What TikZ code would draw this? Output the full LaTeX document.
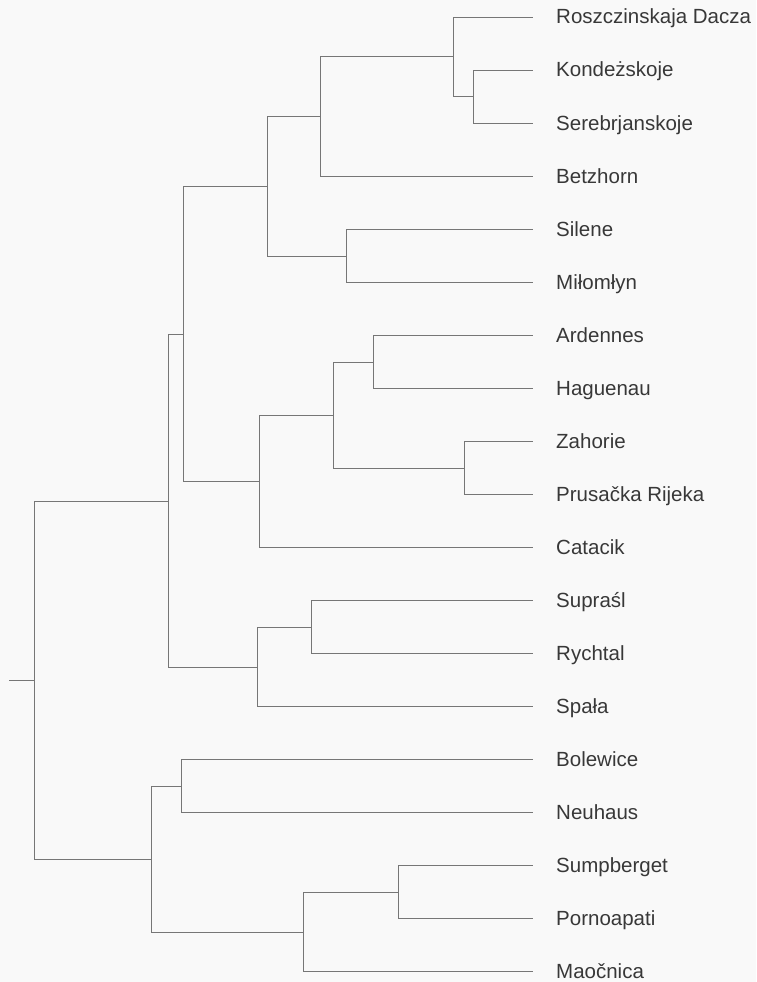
\documentclass[tikz,border=0pt]{standalone}
\usepackage{fontspec}
\setmainfont{Liberation Sans}
\definecolor{bgc}{HTML}{F9F9F9}
\definecolor{linec}{HTML}{767676}
\definecolor{txtc}{HTML}{383838}
\tikzset{
  branch/.style={draw=linec, line width=0.95pt},
  leaflabel/.style={anchor=base west, inner sep=0pt, text=txtc, font=\fontsize{20.5}{24}\selectfont},
}
\begin{document}
\begin{tikzpicture}[x=1pt,y=-1pt]
\fill[bgc] (0,0) rectangle (756,982);
\useasboundingbox (0,0) rectangle (756,982);
% leaves
\foreach \i/\t in {1/Roszczinskaja Dacza,2/Kondeżskoje,3/Serebrjanskoje,4/Betzhorn,5/Silene,6/Miłomłyn,7/Ardennes,8/Haguenau,9/Zahorie,10/Prusačka Rijeka,11/Catacik,12/Supraśl,13/Rychtal,14/Spała,15/Bolewice,16/Neuhaus,17/Sumpberget,18/Pornoapati,19/Maočnica}{
  \pgfmathsetmacro{\yy}{17+53*(\i-1)}
  \coordinate (L\i) at (533,\yy);
  \node[leaflabel] (T\i) at (556,\yy+7) {\t};
}
% internal nodes
\coordinate (nKS) at (473,96.5);
\coordinate (nA) at (453,56.75);
\coordinate (nB) at (320,116.9);
\coordinate (nSM) at (346,256.5);
\coordinate (nC) at (267,186.7);
\coordinate (nAH) at (373,362.5);
\coordinate (nZP) at (464,468.5);
\coordinate (nF) at (333,415.5);
\coordinate (nE) at (259,481.7);
\coordinate (nD) at (183,334.2);
\coordinate (nSR) at (311,627.5);
\coordinate (nH) at (257,667.7);
\coordinate (nG) at (168,501);
\coordinate (nBN) at (181,786.5);
\coordinate (nSP) at (398,892.5);
\coordinate (nJ) at (303,932.2);
\coordinate (nI) at (151,859.4);
\coordinate (root) at (34,680.2);
\coordinate (stub) at (9,680.2);
% branches
\draw[branch] (nKS) |- (L2);  \draw[branch] (nKS) |- (L3);
\draw[branch] (nA) |- (L1);   \draw[branch] (nA) |- (nKS);
\draw[branch] (nB) |- (nA);   \draw[branch] (nB) |- (L4);
\draw[branch] (nSM) |- (L5);  \draw[branch] (nSM) |- (L6);
\draw[branch] (nC) |- (nB);   \draw[branch] (nC) |- (nSM);
\draw[branch] (nAH) |- (L7);  \draw[branch] (nAH) |- (L8);
\draw[branch] (nZP) |- (L9);  \draw[branch] (nZP) |- (L10);
\draw[branch] (nF) |- (nAH);  \draw[branch] (nF) |- (nZP);
\draw[branch] (nE) |- (nF);   \draw[branch] (nE) |- (L11);
\draw[branch] (nD) |- (nC);   \draw[branch] (nD) |- (nE);
\draw[branch] (nSR) |- (L12); \draw[branch] (nSR) |- (L13);
\draw[branch] (nH) |- (nSR);  \draw[branch] (nH) |- (L14);
\draw[branch] (nG) |- (nD);   \draw[branch] (nG) |- (nH);
\draw[branch] (nBN) |- (L15); \draw[branch] (nBN) |- (L16);
\draw[branch] (nSP) |- (L17); \draw[branch] (nSP) |- (L18);
\draw[branch] (nJ) |- (nSP);  \draw[branch] (nJ) |- (L19);
\draw[branch] (nI) |- (nBN);  \draw[branch] (nI) |- (nJ);
\draw[branch] (root) |- (nG); \draw[branch] (root) |- (nI);
\draw[branch] (stub) -- (root);
\end{tikzpicture}
\end{document}
